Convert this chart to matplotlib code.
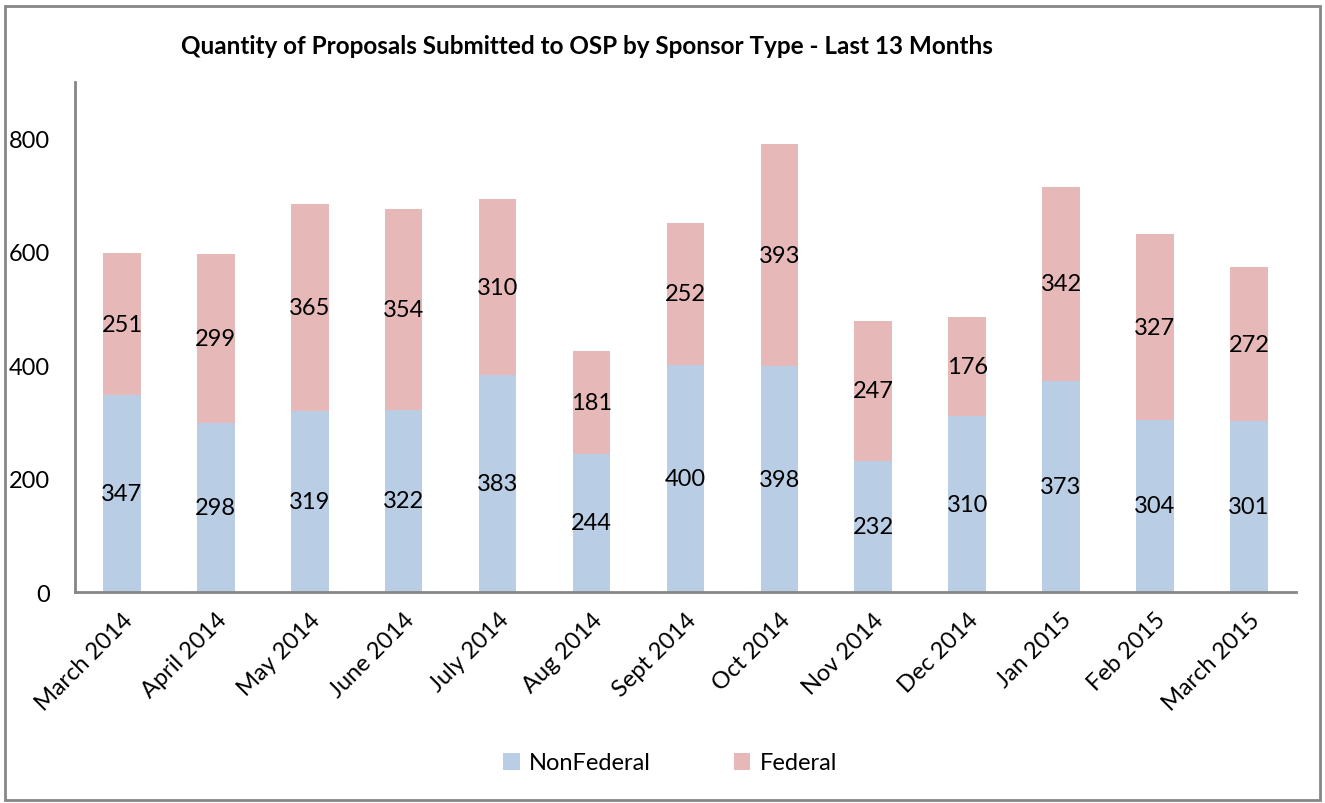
import numpy as np
import matplotlib.pyplot as plt

months = ["March 2014", "April 2014", "May 2014", "June 2014", "July 2014", "Aug 2014",
          "Sept 2014", "Oct 2014", "Nov 2014", "Dec 2014", "Jan 2015", "Feb 2015", "March 2015"]
nonfederal = [347, 298, 319, 322, 383, 244, 400, 398, 232, 310, 373, 304, 301]
federal = [251, 299, 365, 354, 310, 181, 252, 393, 247, 176, 342, 327, 272]

plt.rcParams['font.family'] = ['Lato', 'DejaVu Sans']

fig = plt.figure(figsize=(13.25, 8.04), dpi=100)
ax = fig.add_axes([0.0566, 0.2624, 0.9214, 0.6344])

x = np.arange(len(months))
w = 0.4
b1 = ax.bar(x, nonfederal, w, color='#B9CDE5', label='NonFederal')
b2 = ax.bar(x, federal, w, bottom=nonfederal, color='#E6B9B8', label='Federal')

# value labels in middle of each segment
for i in range(len(months)):
    ax.text(x[i], nonfederal[i] / 2, str(nonfederal[i]), ha='center', va='center', fontsize=17)
    ax.text(x[i], nonfederal[i] + federal[i] / 2, str(federal[i]), ha='center', va='center', fontsize=17)

ax.set_xlim(-0.5, len(months) - 0.5)
ax.set_ylim(0, 900)
ax.set_yticks([0, 200, 400, 600, 800])
ax.set_xticks(x)
ax.set_xticklabels(months, rotation=45, ha='right', rotation_mode='anchor', fontsize=17)
ax.tick_params(axis='both', length=0, labelsize=17)
ax.tick_params(axis='y', pad=18)
ax.tick_params(axis='x', pad=12)
for s in ['top', 'right']:
    ax.spines[s].set_visible(False)
for s in ['left', 'bottom']:
    ax.spines[s].set_color('#868686')
    ax.spines[s].set_linewidth(2)

fig.text(587 / 1325, 1 - 47 / 804, "Quantity of Proposals Submitted to OSP by Sponsor Type - Last 13 Months",
         ha='center', va='center', fontsize=17.5, fontweight='bold')

fig.legend(handles=[b1, b2], loc='center', bbox_to_anchor=(670 / 1325, 1 - 764 / 804), ncol=2,
           frameon=False, fontsize=17, handlelength=0.7, handleheight=0.7, columnspacing=3.5,
           handletextpad=0.4)

# outer border
fig.patches.append(plt.Rectangle((0.004, 0.004), 0.992, 0.987, transform=fig.transFigure,
                                 fill=False, edgecolor='#868686', linewidth=2))

fig.savefig('out.png', dpi=100)
